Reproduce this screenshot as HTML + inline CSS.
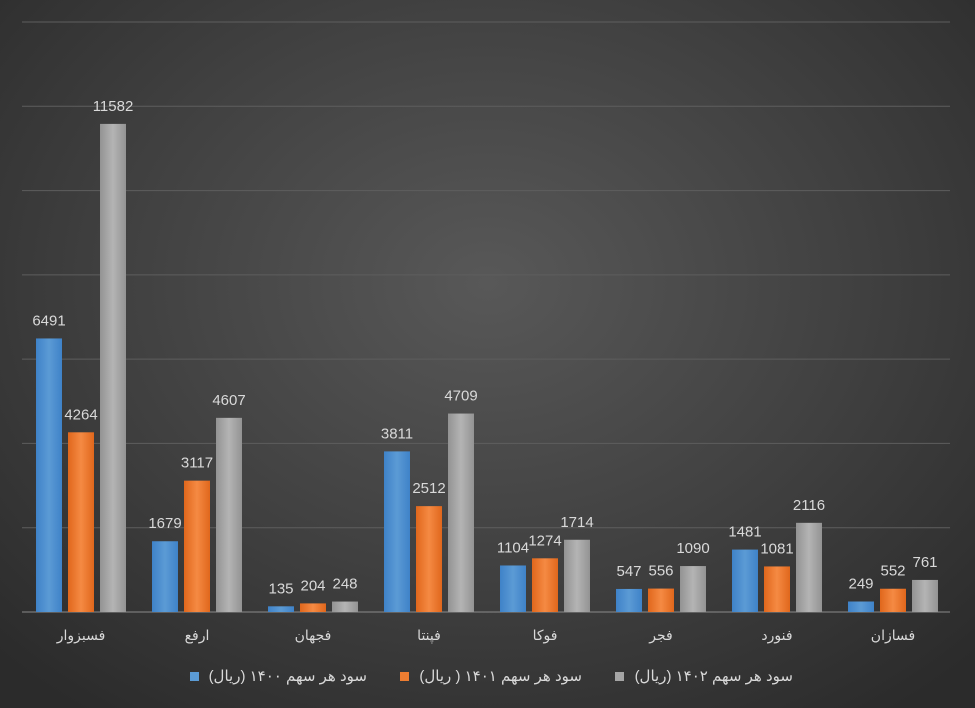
<!DOCTYPE html>
<html><head><meta charset="utf-8"><style>
body{margin:0;width:975px;height:708px;overflow:hidden;background:radial-gradient(ellipse 70% 75% at 50% 40%,#585858 0%,#404040 55%,#2b2b2b 100%);font-family:"Liberation Sans","DejaVu Sans",sans-serif;}
svg{position:absolute;left:0;top:0}
text{font-family:"Liberation Sans","DejaVu Sans",sans-serif}
</style></head><body>
<svg width="975" height="708">
<defs>
<linearGradient id="gb" x1="0" x2="1"><stop offset="0" stop-color="#3f82c8"/><stop offset="0.5" stop-color="#5b9bd5"/><stop offset="1" stop-color="#3f82c8"/></linearGradient>
<linearGradient id="go" x1="0" x2="1"><stop offset="0" stop-color="#e0671c"/><stop offset="0.5" stop-color="#f58a43"/><stop offset="1" stop-color="#e0671c"/></linearGradient>
<linearGradient id="gg" x1="0" x2="1"><stop offset="0" stop-color="#939393"/><stop offset="0.5" stop-color="#b4b4b4"/><stop offset="1" stop-color="#939393"/></linearGradient>
</defs>
<g id="grid"></g>
<g id="bars"></g>
<g id="labels"></g>
<g id="cats"></g>
<g>
<g><rect x="190" y="672" width="9" height="9" fill="#5b9bd5"/><text x="367" y="681" text-anchor="start" direction="rtl" font-size="15" fill="#d9d9d9">سود هر سهم ۱۴۰۰ (ریال)</text></g>
<g><rect x="400" y="672" width="9" height="9" fill="#ed7d31"/><text x="582" y="681" text-anchor="start" direction="rtl" font-size="15" fill="#d9d9d9">سود هر سهم ۱۴۰۱ ( ریال)</text></g>
<g><rect x="615" y="672" width="9" height="9" fill="#a5a5a5"/><text x="793" y="681" text-anchor="start" direction="rtl" font-size="15" fill="#d9d9d9">سود هر سهم ۱۴۰۲ (ریال)</text></g>
</g>
</svg>
<script>
const categories=["فسبزوار","ارفع","فجهان","فپنتا","فوکا","فجر","فنورد","فسازان"];
const s1400=[6491,1679,135,3811,1104,547,1481,249];
const s1401=[4264,3117,204,2512,1274,556,1081,552];
const s1402=[11582,4607,248,4709,1714,1090,2116,761];
const yTicks=[0,2000,4000,6000,8000,10000,12000,14000];
const NS="http://www.w3.org/2000/svg";
const x0=23,x1=951,y0=612,yTop=22,ymax=14000;
const y=v=>y0-(v/ymax)*(y0-yTop);
const cw=(x1-x0)/categories.length;
const xc=i=>x0+cw*(i+0.5);
function mk(t,a,p){const e=document.createElementNS(NS,t);for(const k in a)e.setAttribute(k,a[k]);p.appendChild(e);return e;}
const grid=document.getElementById('grid');
yTicks.forEach(t=>{const l=mk('line',{x1:x0-1,x2:x1-1,y1:y(t),y2:y(t),stroke:t===0?'#8a8a8a':'#5e5e5e','stroke-width':1},grid);

});
const bars=document.getElementById('bars'),labels=document.getElementById('labels'),cats=document.getElementById('cats');
const series=[[s1400,'url(#gb)','bar-1400'],[s1401,'url(#go)','bar-1401'],[s1402,'url(#gg)','bar-1402']];
categories.forEach((c,i)=>{
 series.forEach(([arr,fill,nm],j)=>{
  const cx=xc(i)+(j-1)*32;
  const r=mk('rect',{x:cx-13,y:y(arr[i]),width:26,height:y0-y(arr[i]),fill:fill},bars);
  
  
  const t=mk('text',{x:cx,y:y(arr[i])-13,'text-anchor':'middle','font-size':15,fill:'#d9d9d9'},labels);
  t.textContent=arr[i];
  
  
 });
 const t=mk('text',{x:xc(i),y:640,'text-anchor':'middle','font-size':14,fill:'#d9d9d9'},cats);
 t.textContent=c;
 
 
});
</script>
</body></html>
